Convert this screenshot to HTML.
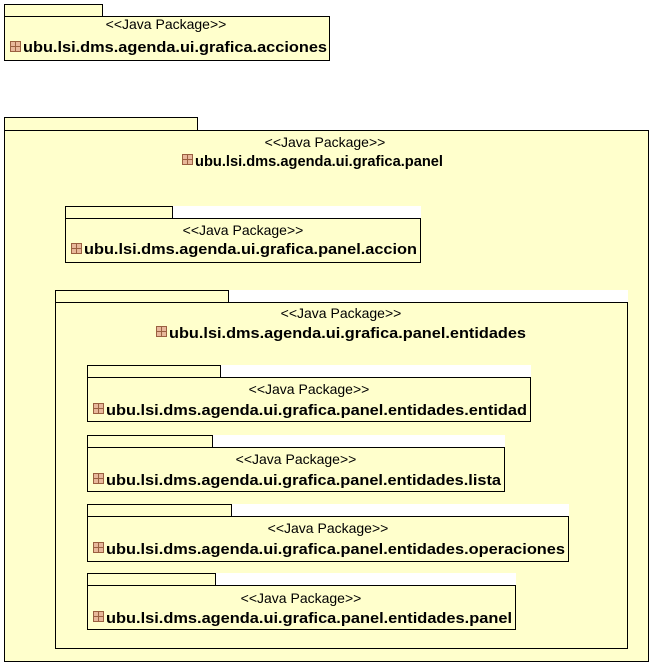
<!DOCTYPE html>
<html><head><meta charset="utf-8"><style>
html,body{margin:0;padding:0;background:#fff;}
svg{display:block;}
.s{font-family:"Liberation Sans",sans-serif;font-size:14px;fill:#000;text-anchor:middle;}
.n{font-family:"Liberation Sans",sans-serif;font-size:15px;font-weight:bold;fill:#000;}
</style></head><body>
<svg width="652" height="665" viewBox="0 0 652 665" xmlns="http://www.w3.org/2000/svg">
<defs>
<g id="ic">
<rect x="0.5" y="0.5" width="10" height="10" fill="#e8b89a" stroke="#9a6040" stroke-width="1"/>
<line x1="5.5" y1="0.5" x2="5.5" y2="10.5" stroke="#9a6040"/>
<line x1="0.5" y1="5.5" x2="10.5" y2="5.5" stroke="#9a6040"/>
</g>
</defs>
<g stroke="#000" stroke-width="1" fill="#ffffcc">
<rect x="4.5" y="4.5" width="98" height="12"/>
<rect x="4.5" y="16.5" width="325" height="44"/>
<rect x="4.5" y="117.5" width="193" height="13"/>
<rect x="4.5" y="130.5" width="644" height="531"/>
<rect x="65" y="206" width="356" height="12" fill="#fff" stroke="none"/>
<rect x="65.5" y="206.5" width="107" height="12"/>
<rect x="65.5" y="218.5" width="355" height="44"/>
<rect x="55" y="290" width="573" height="12" fill="#fff" stroke="none"/>
<rect x="55.5" y="290.5" width="173" height="12"/>
<rect x="55.5" y="302.5" width="572" height="346"/>
<rect x="87" y="365" width="444" height="12" fill="#fff" stroke="none"/>
<rect x="87.5" y="365.5" width="133" height="12"/>
<rect x="87.5" y="377.5" width="443" height="44"/>
<rect x="87" y="435" width="418" height="12" fill="#fff" stroke="none"/>
<rect x="87.5" y="435.5" width="125" height="12"/>
<rect x="87.5" y="447.5" width="417" height="44"/>
<rect x="87" y="504" width="482" height="12" fill="#fff" stroke="none"/>
<rect x="87.5" y="504.5" width="144" height="12"/>
<rect x="87.5" y="516.5" width="481" height="45"/>
<rect x="87" y="573" width="429" height="12" fill="#fff" stroke="none"/>
<rect x="87.5" y="573.5" width="128" height="12"/>
<rect x="87.5" y="585.5" width="428" height="44"/>
</g>

<text class="s" x="166" y="29">&lt;&lt;Java Package&gt;&gt;</text>
<use href="#ic" x="10" y="41"/>
<text class="n" x="23" y="52" textLength="304" lengthAdjust="spacingAndGlyphs">ubu.lsi.dms.agenda.ui.grafica.acciones</text>

<text class="s" x="325" y="147">&lt;&lt;Java Package&gt;&gt;</text>
<use href="#ic" x="182" y="154"/>
<text class="n" x="195" y="166" textLength="248" lengthAdjust="spacingAndGlyphs">ubu.lsi.dms.agenda.ui.grafica.panel</text>

<text class="s" x="243" y="235">&lt;&lt;Java Package&gt;&gt;</text>
<use href="#ic" x="71" y="243"/>
<text class="n" x="84" y="254" textLength="333" lengthAdjust="spacingAndGlyphs">ubu.lsi.dms.agenda.ui.grafica.panel.accion</text>

<text class="s" x="341" y="318">&lt;&lt;Java Package&gt;&gt;</text>
<use href="#ic" x="156" y="326"/>
<text class="n" x="169" y="338" textLength="357" lengthAdjust="spacingAndGlyphs">ubu.lsi.dms.agenda.ui.grafica.panel.entidades</text>

<text class="s" x="309" y="394">&lt;&lt;Java Package&gt;&gt;</text>
<use href="#ic" x="93" y="403"/>
<text class="n" x="106" y="415" textLength="421" lengthAdjust="spacingAndGlyphs">ubu.lsi.dms.agenda.ui.grafica.panel.entidades.entidad</text>

<text class="s" x="296" y="464">&lt;&lt;Java Package&gt;&gt;</text>
<use href="#ic" x="93" y="473"/>
<text class="n" x="106" y="485" textLength="395" lengthAdjust="spacingAndGlyphs">ubu.lsi.dms.agenda.ui.grafica.panel.entidades.lista</text>

<text class="s" x="328" y="533">&lt;&lt;Java Package&gt;&gt;</text>
<use href="#ic" x="93" y="542"/>
<text class="n" x="106" y="554" textLength="459" lengthAdjust="spacingAndGlyphs">ubu.lsi.dms.agenda.ui.grafica.panel.entidades.operaciones</text>

<text class="s" x="301" y="603">&lt;&lt;Java Package&gt;&gt;</text>
<use href="#ic" x="93" y="611"/>
<text class="n" x="106" y="623" textLength="406" lengthAdjust="spacingAndGlyphs">ubu.lsi.dms.agenda.ui.grafica.panel.entidades.panel</text>
</svg>
</body></html>
